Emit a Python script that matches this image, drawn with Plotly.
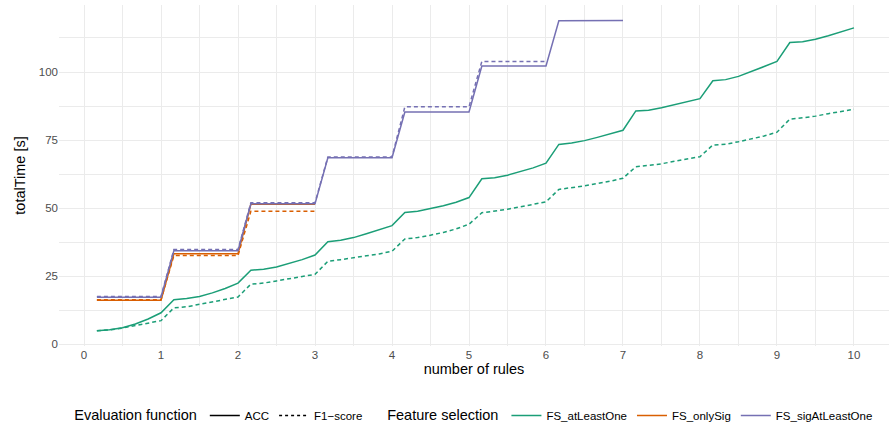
import plotly.graph_objects as go

# ---------------- data ----------------
n_rules = [0.167, 0.333, 0.5, 0.667, 0.833, 1.0,
           1.167, 1.333, 1.5, 1.667, 1.833, 2.0,
           2.167, 2.333, 2.5, 2.667, 2.833, 3.0,
           3.167, 3.333, 3.5, 3.667, 3.833, 4.0,
           4.167, 4.333, 4.5, 4.667, 4.833, 5.0,
           5.167, 5.333, 5.5, 5.667, 5.833, 6.0,
           6.167, 6.333, 6.5, 6.667, 6.833, 7.0,
           7.167, 7.333, 7.5, 7.667, 7.833, 8.0,
           8.167, 8.333, 8.5, 8.667, 8.833, 9.0,
           9.167, 9.333, 9.5, 9.667, 9.833, 10.0]

atLeastOne_acc = [5.0, 5.4, 6.1, 7.5, 9.3, 11.6,
                  16.4, 16.8, 17.6, 18.9, 20.5, 22.5,
                  27.2, 27.6, 28.4, 29.7, 31.1, 32.8,
                  37.7, 38.2, 39.2, 40.6, 42.0, 43.6,
                  48.4, 48.9, 49.9, 50.9, 52.2, 53.9,
                  60.8, 61.2, 62.1, 63.4, 64.8, 66.5,
                  73.4, 73.9, 74.8, 76.0, 77.2, 78.6,
                  85.7, 86.0, 86.9, 88.0, 89.1, 90.2,
                  96.8, 97.2, 98.4, 100.1, 102.0, 103.9,
                  110.8, 111.1, 112.0, 113.3, 114.7, 116.2]

atLeastOne_f1 = [5.0, 5.3, 6.0, 6.9, 7.7, 8.7,
                 13.4, 13.8, 14.7, 15.6, 16.4, 17.4,
                 22.1, 22.5, 23.3, 24.0, 24.9, 25.7,
                 30.5, 31.1, 31.7, 32.5, 33.2, 34.2,
                 38.7, 39.2, 40.1, 41.1, 42.4, 44.1,
                 48.3, 48.9, 49.6, 50.5, 51.3, 52.3,
                 56.9, 57.5, 58.2, 59.1, 59.9, 61.0,
                 65.2, 65.7, 66.3, 67.2, 68.0, 68.9,
                 73.2, 73.5, 74.4, 75.4, 76.5, 77.9,
                 82.7, 83.2, 83.8, 84.7, 85.4, 86.3]

step_rules_3 = [0.167, 1.0, 1.167, 2.0, 2.167, 3.0]
onlySig_acc = [16.2, 16.2, 33.3, 33.3, 51.4, 51.4]
onlySig_f1 = [16.4, 16.4, 32.6, 32.6, 48.9, 48.9]

step_rules_7 = [0.167, 1.0, 1.167, 2.0, 2.167, 3.0, 3.167, 4.0,
                4.167, 5.0, 5.167, 6.0, 6.167, 7.0]
sigAtLeastOne_acc = [17.3, 17.3, 34.4, 34.4, 51.6, 51.6, 68.5, 68.5,
                     85.3, 85.3, 102.2, 102.2, 118.8, 118.9]
step_rules_6 = [0.167, 1.0, 1.167, 2.0, 2.167, 3.0, 3.167, 4.0,
                4.167, 5.0, 5.167, 6.0]
sigAtLeastOne_f1 = [17.6, 17.6, 34.8, 34.8, 52.0, 52.0, 68.8, 68.8,
                    87.2, 87.2, 103.9, 103.9]

x_ticks = [0, 1, 2, 3, 4, 5, 6, 7, 8, 9, 10]
y_ticks = [0, 25, 50, 75, 100]

# ---------------- styles ----------------
GREEN = "#1B9E77"
ORANGE = "#D95F02"
PURPLE = "#7570B3"
DASH = "4px,3px"
LW = 1.5
FONT = "Liberation Sans, Arial, sans-serif"

fig = go.Figure()

series = [
    (n_rules, atLeastOne_acc, GREEN, "solid"),
    (n_rules, atLeastOne_f1, GREEN, DASH),
    (step_rules_3, onlySig_acc, ORANGE, "solid"),
    (step_rules_3, onlySig_f1, ORANGE, DASH),
    (step_rules_7, sigAtLeastOne_acc, PURPLE, "solid"),
    (step_rules_6, sigAtLeastOne_f1, PURPLE, DASH),
]
for xs, ys, col, dash in series:
    fig.add_trace(go.Scatter(x=xs, y=ys, mode="lines",
                             line=dict(color=col, width=LW, dash=dash),
                             showlegend=False, hoverinfo="skip"))

# legend entries (evaluation function)
for name, dash in [("ACC", "solid"), ("F1\u2212score", "3px,3px")]:
    fig.add_trace(go.Scatter(x=[None], y=[None], mode="lines", name=name,
                             line=dict(color="black", width=LW, dash=dash),
                             legend="legend"))
# legend entries (feature selection)
for name, col in [("FS_atLeastOne", GREEN), ("FS_onlySig", ORANGE),
                  ("FS_sigAtLeastOne", PURPLE)]:
    fig.add_trace(go.Scatter(x=[None], y=[None], mode="lines", name=name,
                             line=dict(color=col, width=LW),
                             legend="legend2"))

grid_major = "#EBEBEB"
fig.update_layout(
    width=889, height=430,
    margin=dict(l=59, r=0, t=5, b=84),
    paper_bgcolor="white", plot_bgcolor="white",
    font=dict(family=FONT, color="black"),
    xaxis=dict(range=[-0.325, 10.455], tickvals=x_ticks,
               ticktext=[str(v) for v in x_ticks],
               showgrid=True, gridcolor=grid_major, gridwidth=1.1,
               minor=dict(dtick=0.5, tick0=0, showgrid=True,
                          gridcolor=grid_major, gridwidth=0.6),
               zeroline=False, showline=False, ticks="",
               tickfont=dict(size=11.5, color="#4D4D4D"),
               title=dict(text="number of rules", font=dict(size=14.5),
                          standoff=4)),
    yaxis=dict(range=[-0.6, 124.6], tickvals=y_ticks,
               ticktext=[str(v) for v in y_ticks],
               showgrid=True, gridcolor=grid_major, gridwidth=1.1,
               minor=dict(dtick=12.5, tick0=0, showgrid=True,
                          gridcolor=grid_major, gridwidth=0.6),
               zeroline=False, showline=False, ticks="",
               tickfont=dict(size=11.5, color="#4D4D4D"),
               title=dict(text="totalTime [s]", font=dict(size=14.5),
                          standoff=9)),
    legend=dict(orientation="h", x=0.016, y=-0.205, xanchor="left",
                yanchor="middle", bgcolor="rgba(0,0,0,0)",
                title=dict(text="Evaluation function", side="left",
                           font=dict(size=14.5)),
                font=dict(size=11.5), itemwidth=30, tracegroupgap=0),
    legend2=dict(orientation="h", x=0.393, y=-0.205, xanchor="left",
                 yanchor="middle", bgcolor="rgba(0,0,0,0)",
                 title=dict(text="Feature selection", side="left",
                            font=dict(size=14.5)),
                 font=dict(size=11.5), itemwidth=30, tracegroupgap=0),
)

fig.write_html("out.html")
